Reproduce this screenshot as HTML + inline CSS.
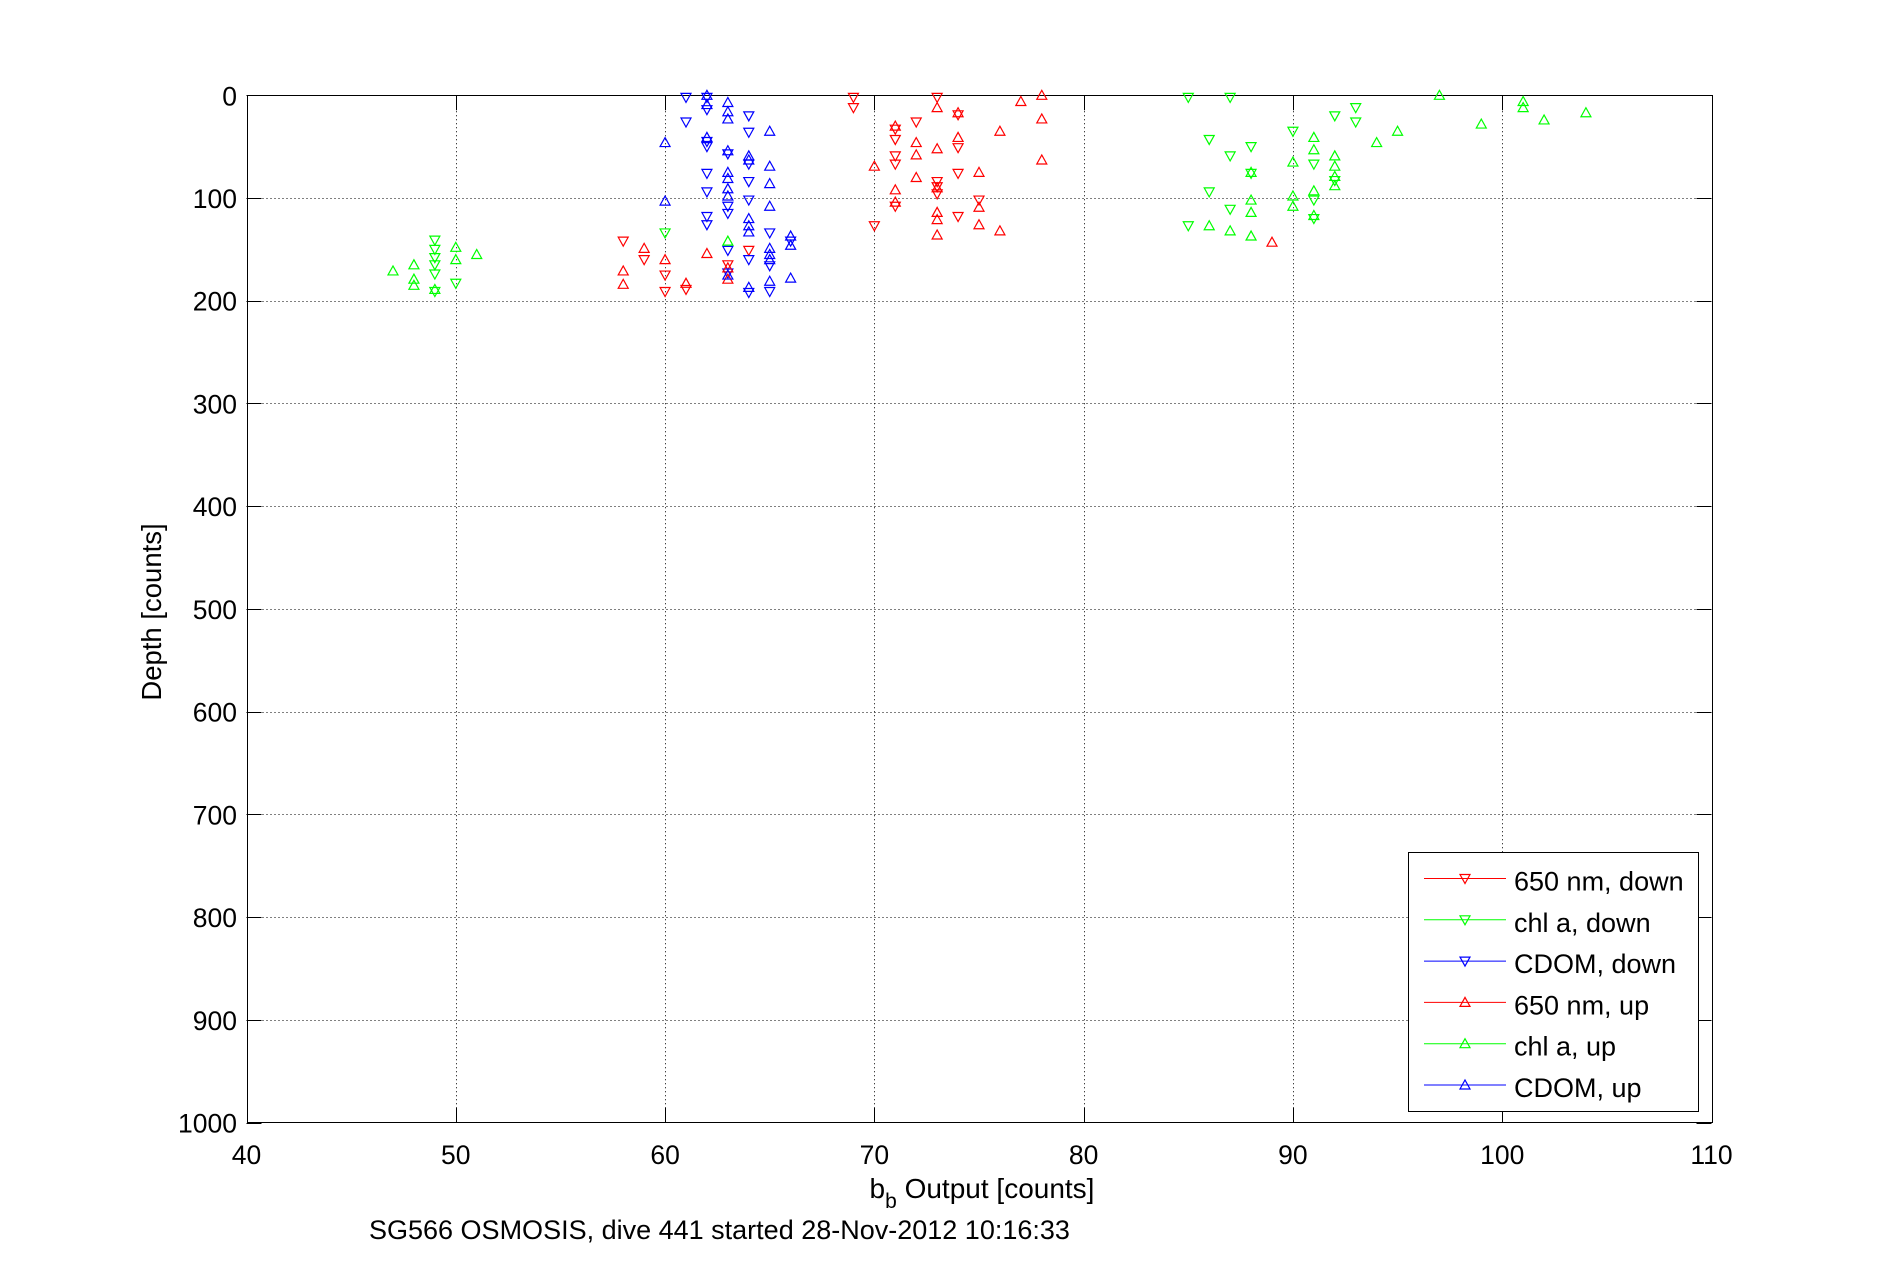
<!DOCTYPE html>
<html><head><meta charset="utf-8">
<style>
html,body{margin:0;padding:0;background:#fff;}
svg{display:block;}
text{font-family:"Liberation Sans",sans-serif;fill:#000;}
</style></head>
<body>
<svg id="chart" width="1891" height="1262" viewBox="0 0 1891 1262" xmlns="http://www.w3.org/2000/svg">
<rect x="0" y="0" width="1891" height="1262" fill="#fff"/>
<g id="grid"></g>
<g id="axes"></g>
<g id="marks"></g>
<text x="0" y="0" font-size="27.5" text-anchor="middle" transform="translate(161,612) rotate(-90)">Depth [counts]</text>
<text x="982" y="1198" font-size="28" text-anchor="middle">b<tspan font-size="21" dy="10">b</tspan><tspan dy="-10"> Output [counts]</tspan></text>
<text x="369" y="1239" font-size="27">SG566 OSMOSIS, dive 441 started 28-Nov-2012 10:16:33</text>
<g id="legend"></g>
</svg>
<script>
const xTicks = [40,50,60,70,80,90,100,110];
const yTicks = [0,100,200,300,400,500,600,700,800,900,1000];
const seriesNames = ["650 nm, down","chl a, down","CDOM, down","650 nm, up","chl a, up","CDOM, up"];
// [x, depth]
const redDown = [[69,2],[69,12],[71,33],[71,43],[71,59],[71,67],[71,108],[72,26],[73,2],[73,84],[73,89],[73,96],[74,19],[74,51],[74,76],[74,118],[75,102],[70,127],[58,142],[59,160],[60,175],[60,191],[61,189],[63,165],[64,151]];
const redUp = [[71,30],[71,92],[71,104],[72,46],[72,58],[72,80],[73,12],[73,52],[73,90],[73,114],[73,121],[73,136],[74,17],[74,41],[75,75],[75,109],[75,126],[76,35],[76,132],[77,6],[78,0],[78,23],[78,63],[70,69],[58,171],[58,184],[59,149],[60,160],[61,183],[62,154],[63,168],[63,179],[89,143]];
const greenDown = [[85,2],[85,127],[86,43],[86,94],[87,2],[87,59],[87,111],[88,50],[88,76],[90,35],[91,67],[91,102],[91,120],[92,20],[92,83],[93,12],[93,26],[49,141],[49,150],[49,158],[49,165],[49,174],[49,191],[50,183],[60,134]];
const greenUp = [[86,127],[87,132],[88,75],[88,102],[88,114],[88,137],[90,65],[90,98],[90,108],[91,41],[91,53],[91,93],[91,117],[92,59],[92,69],[92,79],[92,88],[94,46],[95,35],[97,0],[99,28],[101,6],[101,12],[102,24],[104,17],[47,171],[48,165],[48,179],[48,185],[49,189],[50,148],[50,160],[51,155],[63,142]];
const blueDown = [[61,2],[61,26],[62,2],[62,14],[62,45],[62,50],[62,76],[62,94],[62,118],[62,126],[63,57],[63,108],[63,115],[63,151],[63,173],[64,20],[64,36],[64,67],[64,84],[64,102],[64,160],[64,192],[65,134],[65,166],[65,191],[66,142]];
const blueUp = [[60,46],[60,103],[62,0],[62,9],[62,41],[63,7],[63,16],[63,23],[63,54],[63,75],[63,81],[63,91],[63,98],[63,175],[64,59],[64,63],[64,120],[64,127],[64,133],[64,187],[65,35],[65,69],[65,86],[65,108],[65,149],[65,155],[65,160],[65,181],[66,137],[66,146],[66,178]];

const L=246.5, R=1711.5, T=95.3, B=1122.5;
const xMin=40,xMax=110,yMin=0,yMax=1000;
function sx(v){return L+(v-xMin)/(xMax-xMin)*(R-L);}
function sy(v){return T+(v-yMin)/(yMax-yMin)*(B-T);}
const NS="http://www.w3.org/2000/svg";
function mk(tag,attrs,parent){const e=document.createElementNS(NS,tag);for(const k in attrs)e.setAttribute(k,attrs[k]);parent.appendChild(e);return e;}
const grid=document.getElementById('grid'),axes=document.getElementById('axes'),marks=document.getElementById('marks'),legend=document.getElementById('legend');

xTicks.forEach((t,i)=>{
  const x=Math.round(sx(t))+0.5;
  if(i>0&&i<xTicks.length-1){
    const g=mk('line',{x1:x,y1:T,x2:x,y2:B,stroke:'#000','stroke-width':1,'stroke-dasharray':'1,3'},grid);
    
    
  }
  const tk=mk('line',{x1:x,y1:B,x2:x,y2:B-15,stroke:'#000','stroke-width':1},axes);
  
  
  const tk2=mk('line',{x1:x,y1:T,x2:x,y2:T+15,stroke:'#000','stroke-width':1},axes);
  
  
  const lb=mk('text',{x:sx(t),y:1164,'font-size':26.5,'text-anchor':'middle'},axes);
  lb.textContent=t;
  
  
});
yTicks.forEach((t,i)=>{
  const y=Math.round(sy(t))+0.5;
  if(i>0&&i<yTicks.length-1){
    const g=mk('line',{x1:L,y1:y,x2:R,y2:y,stroke:'#000','stroke-width':1,'stroke-dasharray':'1,3'},grid);
    
    
  }
  const tk=mk('line',{x1:L,y1:y,x2:L+15,y2:y,stroke:'#000','stroke-width':1},axes);
  
  
  const tk2=mk('line',{x1:R,y1:y,x2:R-15,y2:y,stroke:'#000','stroke-width':1},axes);
  
  
  const lb=mk('text',{x:237,y:sy(t)+10,'font-size':26.5,'text-anchor':'end'},axes);
  lb.textContent=t;
  
  
});
const box=mk('rect',{x:Math.round(L)+0.5,y:Math.round(T)+0.5,width:Math.round(R-L),height:Math.round(B-T),fill:'none',stroke:'#000','stroke-width':1},axes);



function tri(cx,cy,down,color,parent){
  const pts = down ? `${cx-5},${cy-4} ${cx+5},${cy-4} ${cx},${cy+5}` : `${cx-5},${cy+4} ${cx+5},${cy+4} ${cx},${cy-5}`;
  return mk('polygon',{points:pts,fill:'none',stroke:color,'stroke-width':1.2},parent);
}
const allSeries=[[redDown,true,'#ff0000'],[greenDown,true,'#00ff00'],[blueDown,true,'#0000ff'],[redUp,false,'#ff0000'],[greenUp,false,'#00ff00'],[blueUp,false,'#0000ff']];
allSeries.forEach((s,si)=>{
  s[0].forEach(p=>{
    const m=tri(sx(p[0]),sy(p[1]),s[1],s[2],marks);
    
    
  });
});

const lb=mk('rect',{x:1408.5,y:852.5,width:290,height:259,fill:'#fff',stroke:'#000','stroke-width':1},legend);


seriesNames.forEach((n,i)=>{
  const y=878.5+i*41.3;
  const g=mk('g',{},legend);
  
  
  mk('line',{x1:1424,y1:y,x2:1506,y2:y,stroke:allSeries[i][2],'stroke-width':1},g);
  tri(1465,y,allSeries[i][1],allSeries[i][2],g);
  const t=mk('text',{x:1514,y:y+12,'font-size':27},g);
  t.textContent=n;
});
</script>
</body></html>
